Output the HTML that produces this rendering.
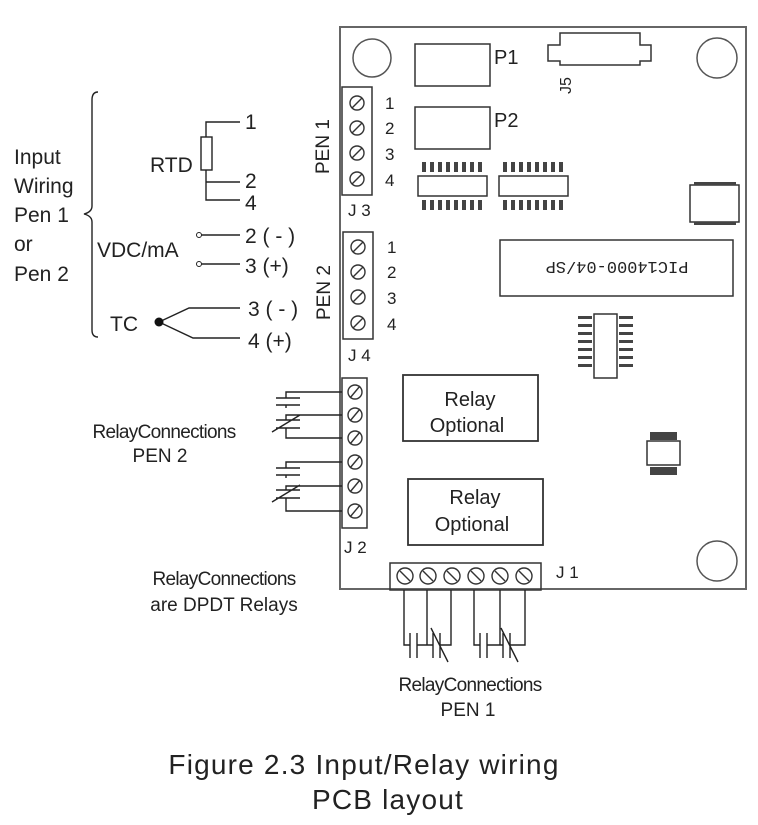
<!DOCTYPE html>
<html><head><meta charset="utf-8"><style>
body{margin:0;background:#fff}
svg{display:block}
text{font-family:"Liberation Sans",sans-serif;fill:#222}
text.mono{font-family:"Liberation Mono",monospace}
</style></head><body>
<svg width="758" height="825" viewBox="0 0 758 825" xmlns="http://www.w3.org/2000/svg">
<g fill="none" stroke="#333" stroke-width="1.5">
<rect x="340" y="27" width="406" height="562" stroke="#666" stroke-width="2"/>
<circle cx="372" cy="58" r="19" stroke="#555"/>
<circle cx="717" cy="58" r="20" stroke="#555"/>
<circle cx="717" cy="561" r="20" stroke="#555"/>
<rect x="415" y="44" width="75" height="42"/>
<rect x="415" y="107" width="75" height="42"/>
<path d="M560 33 H640 V45 H651 V61 H640 V65 H560 V61 H548 V45 H560 Z"/>
<rect x="418" y="176" width="69" height="20"/>
<rect x="499" y="176" width="69" height="20"/>
<rect x="690" y="185" width="49" height="37"/>
<rect x="500" y="240" width="233" height="56"/>
<rect x="594" y="314" width="23" height="64"/>
<rect x="647" y="441" width="33" height="24"/>
<rect x="403" y="375" width="135" height="66" stroke-width="1.8"/>
<rect x="408" y="479" width="135" height="66" stroke-width="1.8"/>
<rect x="342" y="87" width="30" height="108"/>
<rect x="343" y="232" width="30" height="107"/>
<rect x="342" y="378" width="25" height="150"/>
<rect x="390" y="563" width="151" height="27"/>
</g>
<g fill="#444">
<g id="pins1"><rect x="422" y="162" width="4" height="10"/><rect x="430" y="162" width="4" height="10"/><rect x="438" y="162" width="4" height="10"/><rect x="446" y="162" width="4" height="10"/><rect x="454" y="162" width="4" height="10"/><rect x="462" y="162" width="4" height="10"/><rect x="470" y="162" width="4" height="10"/><rect x="478" y="162" width="4" height="10"/></g>
<use href="#pins1" y="38"/><use href="#pins1" x="81"/><use href="#pins1" x="81" y="38"/>
<rect x="694" y="182" width="42" height="3"/><rect x="694" y="222" width="42" height="3"/>
<g id="vp"><rect x="578" y="316" width="14" height="3"/><rect x="578" y="324" width="14" height="3"/><rect x="578" y="332" width="14" height="3"/><rect x="578" y="340" width="14" height="3"/><rect x="578" y="348" width="14" height="3"/><rect x="578" y="356" width="14" height="3"/><rect x="578" y="364" width="14" height="3"/></g>
<use href="#vp" x="41"/>
<rect x="650" y="432" width="27" height="8"/><rect x="650" y="467" width="27" height="8"/>
</g>
<g fill="none" stroke="#333" stroke-width="1.4">
<g id="s3"><circle cx="357" cy="103" r="7"/><line x1="352" y1="108" x2="362" y2="98"/></g>
<use href="#s3" y="25"/><use href="#s3" y="50"/><use href="#s3" y="76"/>
<use href="#s3" x="1" y="144"/><use href="#s3" x="1" y="169"/><use href="#s3" x="1" y="194"/><use href="#s3" x="1" y="220"/>
<g id="s2"><circle cx="355" cy="392" r="7"/><line x1="350" y1="398" x2="360" y2="386"/></g>
<use href="#s2" y="23"/><use href="#s2" y="46"/><use href="#s2" y="70"/><use href="#s2" y="94"/><use href="#s2" y="119"/>
<g id="s1"><circle cx="405" cy="576" r="8"/><line x1="400" y1="571" x2="410" y2="581"/></g>
<use href="#s1" x="23"/><use href="#s1" x="47"/><use href="#s1" x="71"/><use href="#s1" x="95"/><use href="#s1" x="119"/>
</g>
<g fill="none" stroke="#222" stroke-width="1.4">
<path d="M98 92 Q92 92 92 100 V206 Q92 212 84 214 Q92 216 92 222 V330 Q92 337 98 337"/>
<rect x="201" y="137" width="11" height="33"/>
<path d="M206 137 V122 H240"/>
<path d="M206 170 V200 H240 M206 182 H240"/>
<path d="M201 235 H240 M201 264 H240"/>
<path d="M159 322 L189 308 H240 M159 322 L193 338 H240"/>
<path d="M342 392 H286 V398 M276 398 H300 M276 405 H300 M286 405 V408"/>
<path d="M342 415 H286 V420 M276 420 H300 M276 428 H300 M272 432 L300 415 M286 428 V438 H342"/>
<path d="M342 462 H286 V468 M276 468 H300 M276 475 H300 M286 475 V478"/>
<path d="M342 486 H286 V490 M276 490 H300 M276 498 H300 M272 502 L300 485 M286 498 V511 H342"/>
<path d="M404 590 V645 H410 M410 633 V658 M417 633 V658 M417 645 H433 M433 633 V658 M440 633 V658 M431 628 L448 662 M427 590 V645 M451 590 V645 H440"/>
<path d="M474 590 V645 H480 M480 633 V658 M487 633 V658 M487 645 H503 M503 633 V658 M510 633 V658 M501 628 L518 662 M500 590 V645 M525 590 V645 H510"/>
</g>
<circle cx="199" cy="235" r="2.5" fill="#fff" stroke="#222"/>
<circle cx="199" cy="264" r="2.5" fill="#fff" stroke="#222"/>
<circle cx="159" cy="322" r="4.5" fill="#111"/>
<g font-size="21">
<text x="14" y="164">Input</text><text x="14" y="193">Wiring</text><text x="14" y="222">Pen 1</text><text x="14" y="251">or</text><text x="14" y="281">Pen 2</text>
<text x="150" y="172">RTD</text>
<text x="97" y="257">VDC/mA</text>
<text x="110" y="331">TC</text>
<text x="245" y="129">1</text><text x="245" y="188">2</text><text x="245" y="210">4</text>
<text x="245" y="243">2 ( - )</text><text x="245" y="273">3 (+)</text>
<text x="248" y="316">3 ( - )</text><text x="248" y="348">4 (+)</text>
</g>
<g font-size="17">
<text x="385" y="109">1</text><text x="385" y="134">2</text><text x="385" y="160">3</text><text x="385" y="186">4</text>
<text x="387" y="253">1</text><text x="387" y="278">2</text><text x="387" y="304">3</text><text x="387" y="330">4</text>
<text x="348" y="216">J 3</text><text x="348" y="361">J 4</text><text x="344" y="553">J 2</text><text x="556" y="578">J 1</text>
<text x="494" y="64" font-size="20">P1</text><text x="494" y="127" font-size="20">P2</text>
<text transform="translate(329,174) rotate(-90)" font-size="19">PEN 1</text>
<text transform="translate(330,320) rotate(-90)" font-size="19">PEN 2</text>
<text transform="translate(571,94) rotate(-90)" font-size="16">J5</text>
<text class="mono" transform="translate(617,268) rotate(180)" font-size="17" text-anchor="middle" dy="6">PIC14000-04/SP</text>
</g>
<g font-size="20" text-anchor="middle">
<text x="470" y="406">Relay</text><text x="467" y="432">Optional</text>
<text x="475" y="504">Relay</text><text x="472" y="531">Optional</text>
</g>
<g font-size="19" text-anchor="middle">
<text x="164" y="438" letter-spacing="-0.7">RelayConnections</text><text x="160" y="462">PEN 2</text>
<text x="224" y="585" letter-spacing="-0.7">RelayConnections</text><text x="224" y="611">are DPDT Relays</text>
<text x="470" y="691" letter-spacing="-0.7">RelayConnections</text><text x="468" y="716">PEN 1</text>
</g>
<g font-size="28" text-anchor="middle" letter-spacing="1.2">
<text x="364" y="774">Figure 2.3 Input/Relay wiring</text>
<text x="388" y="809">PCB layout</text>
</g>
</svg>
</body></html>
